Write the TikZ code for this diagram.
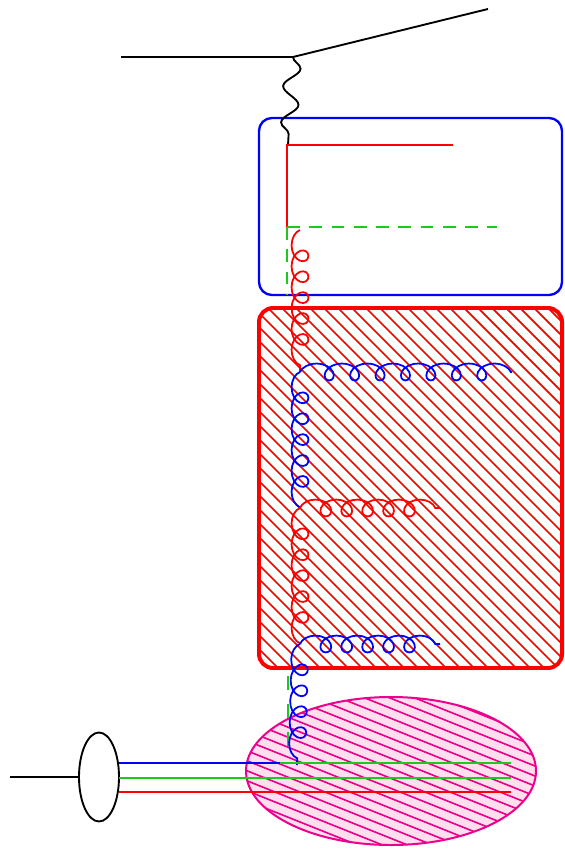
\documentclass[tikz,border=0pt]{standalone}
\usepackage{tikz}
\usetikzlibrary{decorations.pathmorphing, shapes.geometric}
\definecolor{quarkgreen}{RGB}{30, 200, 30}
\definecolor{blobpink}{RGB}{255, 222, 238}

\begin{document}
\begin{tikzpicture}[x=0.03cm, y=-0.03cm,
    lepton/.style={line width=1.6pt},
    quark/.style={line width=1.6pt},
    photon/.style={decorate, line width=1.6pt,
      decoration={snake, amplitude=7pt, segment length=31pt}},
    gluon/.style={decorate, line width=1.5pt,
      decoration={coil, aspect=1.2, amplitude=7.2pt, segment length=17.85pt}},
    gluondown/.style={gluon, decoration={mirror}},
    cutline/.style={quarkgreen, line width=1.7pt, dash pattern=on 11pt off 8pt}]
  \useasboundingbox (0,0) rectangle (564,850);

  % Boxes
  \draw[blue, line width=2pt, rounded corners=11pt] (259,118) rectangle (562,295);
  \begin{scope}
    \clip[rounded corners=12pt] (259,308) rectangle (562,668);
    \foreach \c in {-254,-240,...,410}
      \draw[red, line width=1.5pt] (259,259+\c) -- (562,562+\c);
  \end{scope}
  \draw[red, line width=3.4pt, rounded corners=12pt] (259,308) rectangle (562,668);

  % Target blob
  \fill[blobpink] (391,771) ellipse [x radius=145, y radius=74];
  \begin{scope}
    \clip (391,771) ellipse [x radius=145, y radius=74];
    \foreach \c in {482,492,...,752}
      \draw[magenta, line width=1.4pt] (246,98.4+\c) -- (536,214.4+\c);
  \end{scope}
  \draw[magenta, line width=1.7pt] (391,771) ellipse [x radius=145, y radius=74];
  % Hadron
  \node[ellipse, draw, line width=1.6pt, minimum width=1.2cm, minimum height=2.67cm]
        (hadron) at (99,777) {};

  % Vertices
  \coordinate (ein) at (121,57);
  \coordinate (evtx) at (293,57);
  \coordinate (eout) at (488,9);
  \coordinate (qtop) at (288,145);
  \coordinate (qend) at (453,145);
  \coordinate (qbend) at (287,227);
  \coordinate (gend) at (497,227);
  \coordinate (gbot) at (287,295);
  \coordinate (c1) at (300,230);
  \coordinate (c2) at (300,372);
  \coordinate (c3) at (300,508);
  \coordinate (c4) at (300,644);
  \coordinate (c5) at (297,765);
  \coordinate (h2) at (512,372);
  \coordinate (h3) at (440,508);
  \coordinate (h4) at (440,644);
  \coordinate (dtop) at (288,676);
  \coordinate (dbot) at (288,752);
  \coordinate (hin) at (10,777);
  \coordinate (bq0) at (119,763);
  \coordinate (bq1) at (280,763);
  \coordinate (bq2) at (511,763);
  \coordinate (gq0) at (119,778);
  \coordinate (gq1) at (511,778);
  \coordinate (rq0) at (119,792);
  \coordinate (rq1) at (511,792);

  % Lepton and photon
  \draw[lepton] (ein) -- (evtx) -- (eout);
  \draw[photon] (evtx) -- (qtop);

  % Struck quark
  \draw[quark, red] (qend) -- (287,145) -- (qbend);
  \draw[cutline] (qbend) -- (gend);
  \draw[cutline] (qbend) -- (gbot);
  \draw[cutline, dash pattern=on 12pt off 12pt] (dtop) -- (dbot);

  % Gluon ladder
  \draw[gluondown, red] (c1) -- (c2);
  \draw[gluondown, blue] (c2) -- (c3);
  \draw[gluondown, red] (c3) -- (c4);
  \draw[gluondown, blue] (c4) -- (c5);
  \draw[gluon, blue, decoration={segment length=21.7pt}] (c2) -- (h2);
  \draw[gluon, red] (c3) -- (h3);
  \draw[gluon, blue] (c4) -- (h4);

  % Hadron quarks
  \draw[lepton] (hin) -- (hadron);
  \draw[quark, blue] (bq0) -- (bq1);
  \draw[quark, quarkgreen] (bq1) -- (bq2);
  \draw[quark, quarkgreen] (gq0) -- (gq1);
  \draw[quark, red] (rq0) -- (rq1);
\end{tikzpicture}
\end{document}
